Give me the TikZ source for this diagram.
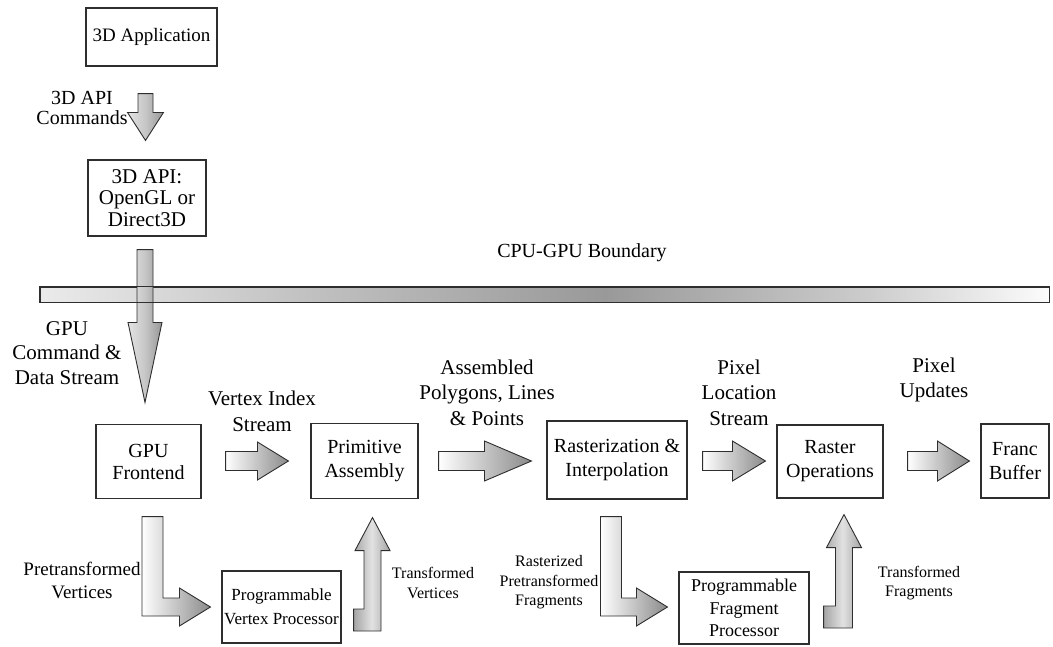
\documentclass[tikz,border=0pt]{standalone}
\usepackage{fontspec}
\setmainfont{Liberation Serif}
\usetikzlibrary{calc}

\definecolor{linec}{HTML}{2E2E2E}
\definecolor{arrdark}{HTML}{8A8A8A}
\definecolor{downlight}{HTML}{E4E4E4}
\definecolor{downmid}{HTML}{C6C6C6}
\definecolor{downdark}{HTML}{979797}
\definecolor{upside}{HTML}{A4A4A4}
\definecolor{upmid}{HTML}{E2E2E2}

% boundary bar: light at the ends, darkest a little right of centre
\pgfdeclarehorizontalshading{barshade}{100bp}{color(0bp)=(gray!16); color(25bp)=(gray!16); color(38bp)=(gray!48); color(53bp)=(gray!80); color(66bp)=(gray!40); color(75bp)=(gray!3); color(100bp)=(gray!3)}

% block arrow pointing right: start, tip, shaft half height, head half height, head length
\newcommand\HArrow[5]{%
  \draw[arrowline, left color=white, right color=arrdark] let \p1=(#1), \p2=(#2) in
    (\x1,\y2+#3) -- (\x2-#5,\y2+#3) -- (\x2-#5,\y2+#4) -- (\x2,\y2)
    -- (\x2-#5,\y2-#4) -- (\x2-#5,\y2-#3) -- (\x1,\y2-#3) -- cycle;}

% block arrow pointing down: start, tip, shaft half width, head half width, head length
\newcommand\VArrow[5]{%
  \draw[arrowline, left color=downlight, right color=downdark, middle color=downmid] let \p1=(#1), \p2=(#2) in
    (\x2-#3,\y1) -- (\x2+#3,\y1) -- (\x2+#3,\y2+#5) -- (\x2+#4,\y2+#5) -- (\x2,\y2)
    -- (\x2-#4,\y2+#5) -- (\x2-#3,\y2+#5) -- cycle;}

% bent arrow: down from the top point, then right to the tip
\newcommand\LArrow[2]{%
  \draw[arrowline, left color=white, right color=arrdark] let \p1=(#1), \p2=(#2) in
    (\x1-10.5pt,\y1) -- (\x1+10.5pt,\y1) -- (\x1+10.5pt,\y2+9pt) -- (\x2-31pt,\y2+9pt)
    -- (\x2-31pt,\y2+19pt) -- (\x2,\y2) -- (\x2-31pt,\y2-19pt) -- (\x2-31pt,\y2-9pt)
    -- (\x1-10.5pt,\y2-9pt) -- cycle;}

% bent arrow: short stub from the bottom-left corner, then up to the tip
\newcommand\UArrow[2]{%
  \draw[arrowline, left color=upside, right color=upside, middle color=upmid] let \p1=(#1), \p2=(#2) in
    (\x1,\y1) -- (\x2+8.5pt,\y1) -- (\x2+8.5pt,\y2-33pt) -- (\x2+17.5pt,\y2-33pt) -- (\x2,\y2)
    -- (\x2-17.5pt,\y2-33pt) -- (\x2-8.5pt,\y2-33pt) -- (\x2-8.5pt,\y1+22pt) -- (\x1,\y1+22pt) -- cycle;}

\begin{document}
\begin{tikzpicture}[x=1pt,y=-1pt,
  box/.style={draw=linec, line width=1.1pt, fill=white, inner sep=0pt, align=center,
    text=black, font=\fontsize{20}{24}\selectfont},
  arrowline/.style={draw=linec, line width=0.9pt, line join=miter},
  biglabel/.style={align=center, inner sep=0pt, text=black, font=\fontsize{21}{25.5}\selectfont},
  midlabel/.style={align=center, inner sep=0pt, text=black, font=\fontsize{19}{23}\selectfont},
  smalllabel/.style={align=center, inner sep=0pt, text=black, font=\fontsize{16}{19.5}\selectfont}]

\useasboundingbox (0,0) rectangle (1053,646);

% ---- CPU side
\node[box, minimum width=131pt, minimum height=58pt, font=\fontsize{19}{22}\selectfont]
  (app) at (151.5,37) {3D Application};
\node[box, minimum width=118pt, minimum height=76pt, font=\fontsize{21}{21.5}\selectfont]
  (api) at (147,198) {3D API:\\OpenGL or\\Direct3D};

% ---- GPU main row
\node[box, minimum width=105pt, minimum height=74pt, font=\fontsize{20}{22}\selectfont]
  (gpufe) at (148.5,461.5) {GPU\\Frontend};
\node[box, minimum width=107pt, minimum height=75pt] (prim) at (364.5,461) {Primitive\\Assembly};
\node[box, minimum width=140pt, minimum height=78pt] (rast) at (617,460) {Rasterization \&\\Interpolation};
\node[box, minimum width=106pt, minimum height=73pt] (rop) at (830,461.5) {Raster\\Operations};
\node[box, minimum width=68pt, minimum height=74pt] (fb) at (1015,461) {Franc\\Buffer};

% ---- programmable stages
\node[box, minimum width=119pt, minimum height=72pt, font=\fontsize{17}{24}\selectfont]
  (pvp) at (281.5,607) {Programmable\\Vertex Processor};
\node[box, minimum width=130pt, minimum height=72pt, font=\fontsize{18}{22.5}\selectfont]
  (pfp) at (744,608) {Programmable\\Fragment\\Processor};

% ---- CPU-GPU boundary bar
\node[shade, shading=barshade, draw=linec, line width=0.9pt, minimum width=1009pt,
  minimum height=15pt, inner sep=0pt] (bar) at (544.5,294.5) {};
\node[align=center, inner sep=0pt, font=\fontsize{20}{24}\selectfont] (barlbl) at (582,253) {CPU-GPU Boundary};

% ---- vertical arrows from the application down to the GPU
\path ($(app.south)+(-6,27)$) coordinate (e1s) ($(api.north)+(-1.5,-19)$) coordinate (e1t);
\VArrow{e1s}{e1t}{7.5pt}{18pt}{28pt}
\path ($(api.south)+(-2,13)$) coordinate (e2s) ($(gpufe.north)+(-3.5,-21.5)$) coordinate (e2t);
\VArrow{e2s}{e2t}{8pt}{17pt}{80pt}
\draw[draw=linec, line width=0.9pt] (bar.north west) rectangle (bar.south east);

% ---- main row arrows
\path ($(gpufe.east)+(24,0)$) coordinate (h1s) ($(prim.west)+(-22,0)$) coordinate (h1t);
\HArrow{h1s}{h1t}{9.5pt}{19pt}{31pt}
\path ($(prim.east)+(20,0)$) coordinate (h2s) ($(rast.west)+(-15,1)$) coordinate (h2t);
\HArrow{h2s}{h2t}{9.5pt}{20pt}{47pt}
\path ($(rast.east)+(15,0)$) coordinate (h3s) ($(rop.west)+(-11,-0.5)$) coordinate (h3t);
\HArrow{h3s}{h3t}{9.5pt}{20pt}{33pt}
\path ($(rop.east)+(24,0)$) coordinate (h4s) ($(fb.west)+(-11,0)$) coordinate (h4t);
\HArrow{h4s}{h4t}{9.5pt}{20pt}{32pt}

% ---- into and out of the programmable stages
\path ($(gpufe.south)+(4,17.5)$) coordinate (l1s) ($(pvp.west)+(-11,0)$) coordinate (l1t);
\LArrow{l1s}{l1t}
\path ($(rast.south)+(-6,17)$) coordinate (l2s) ($(pfp.west)+(-11,-1)$) coordinate (l2t);
\LArrow{l2s}{l2t}
\path ($(pvp.east)+(12,24)$) coordinate (u1s) ($(prim.south)+(8,18.5)$) coordinate (u1t);
\UArrow{u1s}{u1t}
\path ($(pfp.east)+(14,20)$) coordinate (u2s) ($(rop.south)+(14,16)$) coordinate (u2t);
\UArrow{u2s}{u2t}

% ---- stream labels
\node[align=center, inner sep=0pt, font=\fontsize{20}{20}\selectfont] (lblcmd) at (82,108) {3D API\\Commands};
\node[align=center, inner sep=0pt, font=\fontsize{21}{24.5}\selectfont] (lblgpu) at (67,353) {GPU\\Command \&\\Data Stream};
\node[align=center, inner sep=0pt, font=\fontsize{21}{26}\selectfont] (lblvis) at (262,411) {Vertex Index\\Stream};
\node[biglabel] (lblasm) at (487,392.5) {Assembled\\Polygons, Lines\\\& Points};
\node[biglabel] (lblpls) at (739,392.5) {Pixel\\Location\\Stream};
\node[biglabel] (lblpu) at (934,380) {Pixel\\Updates};
\node[midlabel] (lblptv) at (82,580.5) {Pretransformed\\Vertices};
\node[smalllabel] (lbltv) at (433,583) {Transformed\\Vertices};
\node[smalllabel] (lblrpf) at (549,582.5) {Rasterized\\Pretransformed\\Fragments};
\node[smalllabel] (lbltf) at (919,583) {Transformed\\Fragments};

\end{tikzpicture}
\end{document}
